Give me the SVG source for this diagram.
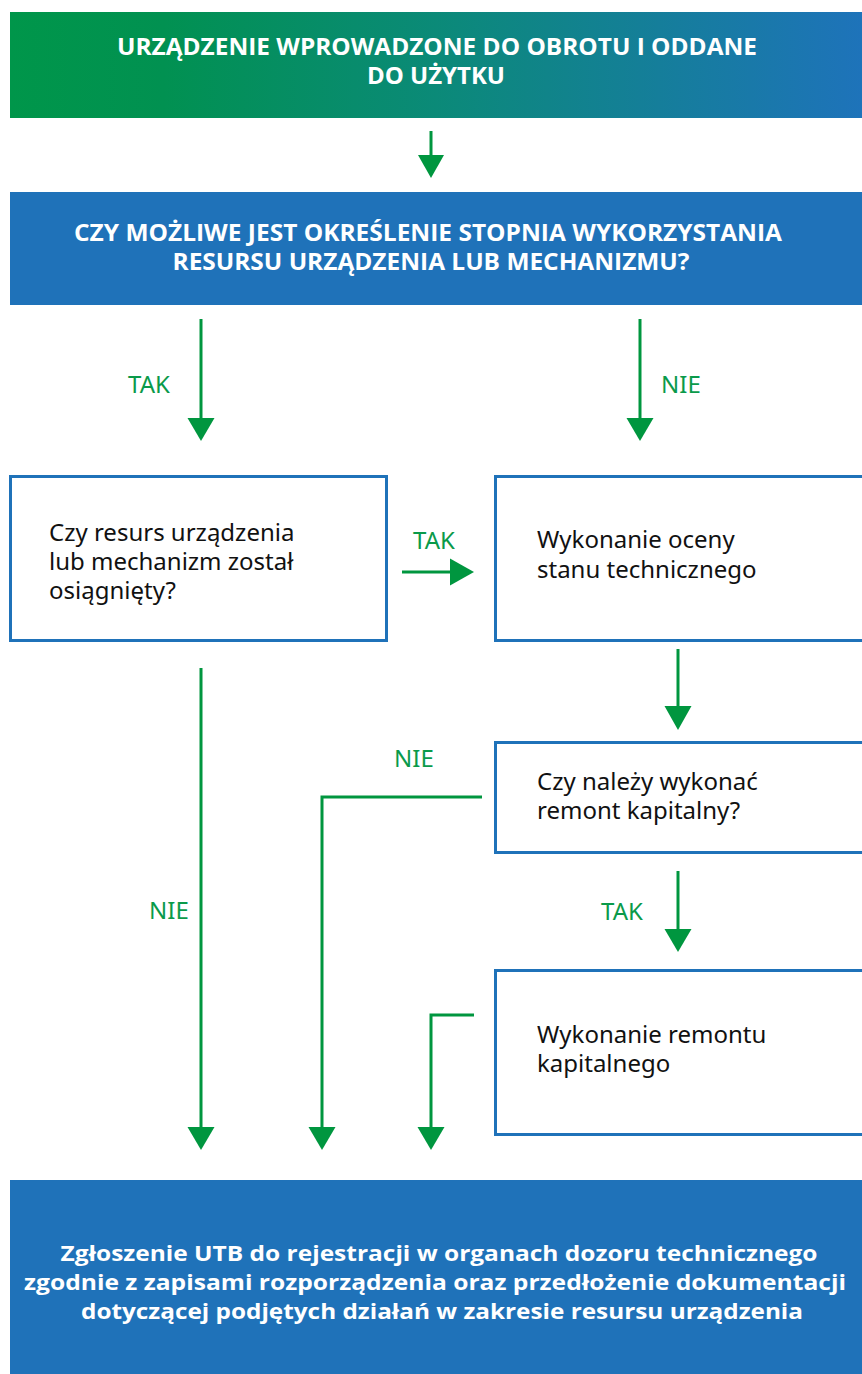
<svg xmlns="http://www.w3.org/2000/svg" width="862" height="1374" viewBox="0 0 862 1374">
<defs>
<linearGradient id="g1" x1="0" y1="0" x2="1" y2="0">
<stop offset="0" stop-color="#00964a"/>
<stop offset="0.18" stop-color="#019151"/>
<stop offset="0.5" stop-color="#0b8a78"/>
<stop offset="1" stop-color="#1e73ba"/>
</linearGradient>
<style>
.hd{font-family:"Open Sans","Liberation Sans",sans-serif;font-weight:700;font-size:23px;fill:#ffffff;}
.bt{font-family:"Open Sans","Liberation Sans",sans-serif;font-weight:700;font-size:21px;fill:#ffffff;}
.tx{font-family:"Noto Sans","Open Sans",sans-serif;font-size:24px;fill:#111111;}
.lb{font-family:"Noto Sans","Open Sans",sans-serif;font-size:24px;fill:#0a9a4a;}
.box{fill:#ffffff;stroke:#1f72b9;stroke-width:3;}
.blue{fill:#1f72b9;}
.cn{fill:none;stroke:#00963f;stroke-width:3;}
.hdv{fill:#00963f;}
</style>
</defs>

<g id="n-start">
<rect x="10" y="12" width="852" height="106" fill="url(#g1)"/>
<text class="hd" x="437" y="55" text-anchor="middle" textLength="640" lengthAdjust="spacingAndGlyphs">URZĄDZENIE WPROWADZONE DO OBROTU I ODDANE</text>
<text class="hd" x="436" y="84" text-anchor="middle" textLength="138" lengthAdjust="spacingAndGlyphs">DO UŻYTKU</text>
</g>

<g id="n-question1">
<rect class="blue" x="10" y="192" width="852" height="113"/>
<text class="hd" x="428" y="241" text-anchor="middle" textLength="708" lengthAdjust="spacingAndGlyphs">CZY MOŻLIWE JEST OKREŚLENIE STOPNIA WYKORZYSTANIA</text>
<text class="hd" x="431" y="270" text-anchor="middle" textLength="517" lengthAdjust="spacingAndGlyphs">RESURSU URZĄDZENIA LUB MECHANIZMU?</text>
</g>

<g id="n-question2">
<rect class="box" x="10.5" y="476.5" width="376" height="164"/>
<text class="tx" x="49" y="541">Czy resurs urządzenia</text>
<text class="tx" x="49" y="570">lub mechanizm został</text>
<text class="tx" x="49" y="599">osiągnięty?</text>
</g>

<g id="n-ocena">
<rect class="box" x="495.5" y="476.5" width="370" height="164"/>
<text class="tx" x="537" y="548">Wykonanie oceny</text>
<text class="tx" x="537" y="578">stanu technicznego</text>
</g>

<g id="n-question3">
<rect class="box" x="495.5" y="742.5" width="370" height="110"/>
<text class="tx" x="537" y="790">Czy należy wykonać</text>
<text class="tx" x="537" y="819">remont kapitalny?</text>
</g>

<g id="n-remont">
<rect class="box" x="495.5" y="970.5" width="370" height="164"/>
<text class="tx" x="537" y="1043">Wykonanie remontu</text>
<text class="tx" x="537" y="1072">kapitalnego</text>
</g>

<g id="n-end">
<rect class="blue" x="10" y="1180" width="852" height="194"/>
<text class="bt" x="439" y="1261" text-anchor="middle" textLength="757" lengthAdjust="spacingAndGlyphs">Zgłoszenie UTB do rejestracji w organach dozoru technicznego</text>
<text class="bt" x="435" y="1290" text-anchor="middle" textLength="822" lengthAdjust="spacingAndGlyphs">zgodnie z zapisami rozporządzenia oraz przedłożenie dokumentacji</text>
<text class="bt" x="442" y="1319" text-anchor="middle" textLength="722" lengthAdjust="spacingAndGlyphs">dotyczącej podjętych działań w zakresie resursu urządzenia</text>
</g>

<g id="connectors">
<line class="cn" x1="431" y1="131" x2="431" y2="156"/>
<path class="hdv" d="M418,155 L444,155 L431,178 Z"/>

<line class="cn" x1="201" y1="319" x2="201" y2="419"/>
<path class="hdv" d="M187.5,418 L214.5,418 L201,441 Z"/>
<text class="lb" x="128" y="393">TAK</text>

<line class="cn" x1="640" y1="319" x2="640" y2="419"/>
<path class="hdv" d="M626.5,418 L653.5,418 L640,441 Z"/>
<text class="lb" x="661" y="393">NIE</text>

<line class="cn" x1="402" y1="572" x2="452" y2="572"/>
<path class="hdv" d="M450,558.5 L450,585.5 L474,572 Z"/>
<text class="lb" x="413" y="549">TAK</text>

<line class="cn" x1="678" y1="649" x2="678" y2="708"/>
<path class="hdv" d="M664.5,706 L691.5,706 L678,730 Z"/>

<line class="cn" x1="201" y1="668" x2="201" y2="1129"/>
<path class="hdv" d="M187.5,1127 L214.5,1127 L201,1150 Z"/>
<text class="lb" x="149" y="919">NIE</text>

<polyline class="cn" points="482,797 322,797 322,1129"/>
<path class="hdv" d="M308.5,1127 L335.5,1127 L322,1150 Z"/>
<text class="lb" x="394" y="767">NIE</text>

<line class="cn" x1="678" y1="871" x2="678" y2="931"/>
<path class="hdv" d="M664.5,929 L691.5,929 L678,952 Z"/>
<text class="lb" x="601" y="920">TAK</text>

<polyline class="cn" points="474,1015 431,1015 431,1129"/>
<path class="hdv" d="M417.5,1127 L444.5,1127 L431,1150 Z"/>
</g>
</svg>
